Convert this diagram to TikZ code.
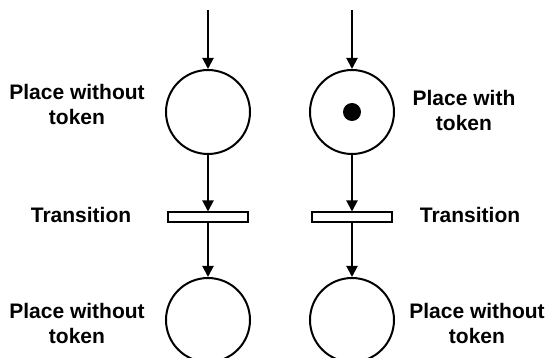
\documentclass[tikz,border=0pt]{standalone}
\usepackage{fontspec}
\setmainfont{Liberation Sans}
\usetikzlibrary{arrows.meta}
\begin{document}
\begin{tikzpicture}[x=1pt,y=-1pt,
  place/.style={circle,draw,line width=2pt,minimum size=84pt,inner sep=0pt},
  trans/.style={rectangle,draw,line width=2pt,minimum width=80pt,minimum height=10pt,inner sep=0pt},
  token/.style={circle,fill=black,minimum size=18pt,inner sep=0pt},
  lbl/.style={font=\bfseries\fontsize{21}{25}\selectfont,align=center},
  arc/.style={line width=2pt,-{Triangle[length=11pt,width=11pt]}}]
\useasboundingbox (0,0) rectangle (547,358);
% left net
\coordinate (inL) at (208,10);
\node[place] (p1) at (208,112) {};
\node[trans] (t1) at (208,217.5) {};
\node[place] (p2) at (208,320) {};
% right net
\coordinate (inR) at (352,10);
\node[place] (p3) at (352,112) {};
\node[token] (tok) at (352,112) {};
\node[trans] (t2) at (352,217.5) {};
\node[place] (p4) at (352,320) {};
% arcs
\draw[arc] (inL) -- (p1);
\draw[arc] (p1) -- (t1);
\draw[arc] (t1) -- (p2);
\draw[arc] (inR) -- (p3);
\draw[arc] (p3) -- (t2);
\draw[arc] (t2) -- (p4);
% labels
\node[lbl] (l1) at (77,104) {Place without\\token};
\node[lbl] (l2) at (464,110) {Place with\\token};
\node[lbl] (l3) at (81,215) {Transition};
\node[lbl] (l4) at (470,215) {Transition};
\node[lbl] (l5) at (77,323) {Place without\\token};
\node[lbl] (l6) at (477,323) {Place without\\token};
\end{tikzpicture}
\end{document}
